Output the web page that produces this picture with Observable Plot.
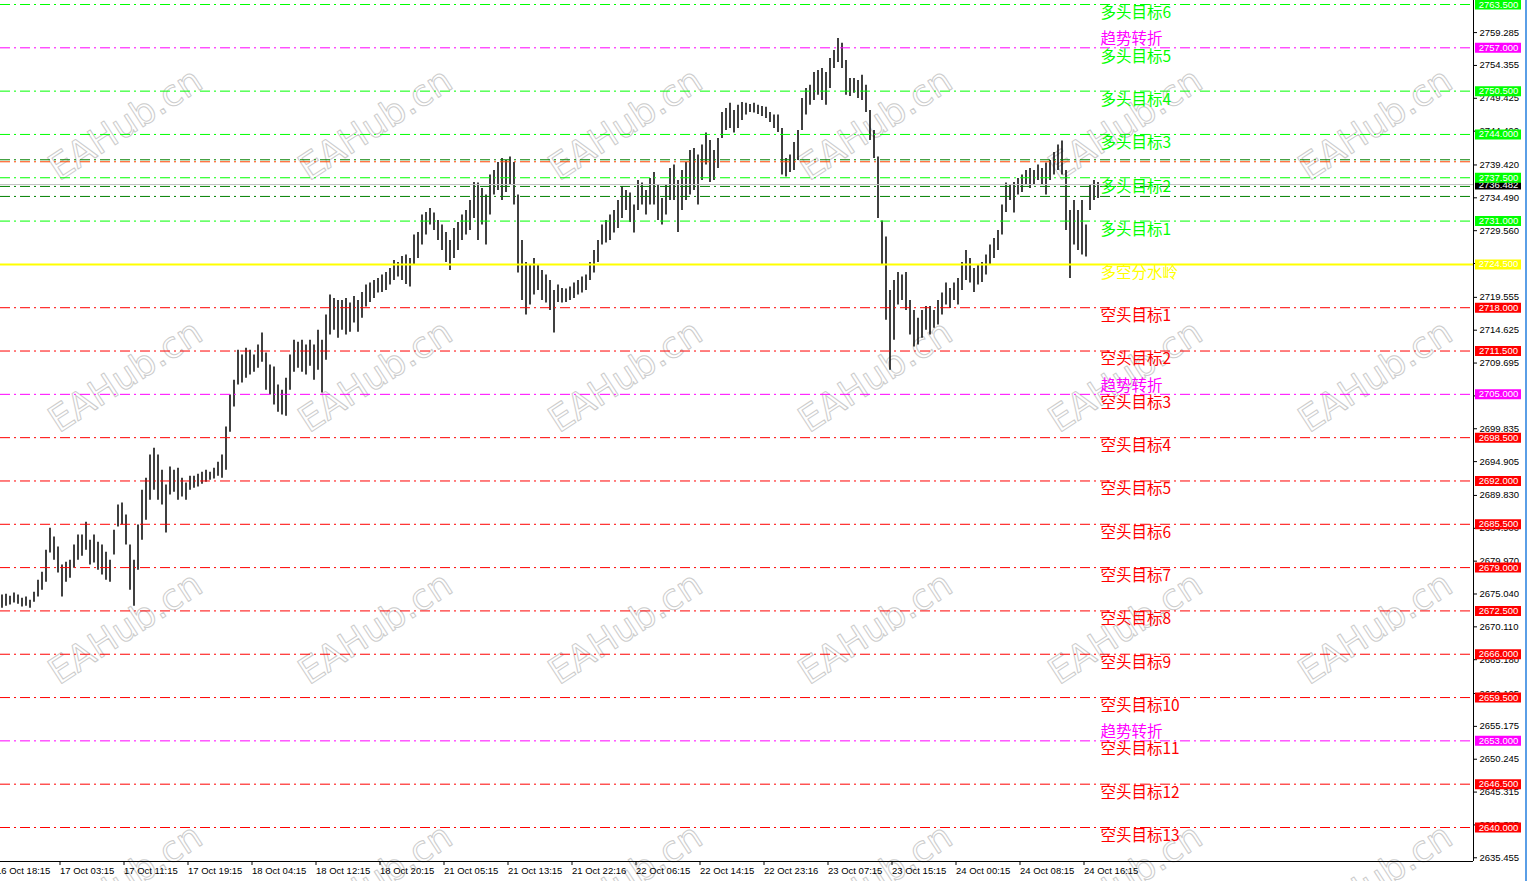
<!DOCTYPE html>
<html><head><meta charset="utf-8">
<script src="https://cdn.jsdelivr.net/npm/d3@7"></script>
<script src="https://cdn.jsdelivr.net/npm/@observablehq/plot@0.6"></script>
<style>
html,body{margin:0;padding:0;background:#fff;overflow:hidden}
#wrap{position:relative;width:1531px;height:881px}
#edge{position:absolute;left:1525px;top:0;width:2px;height:881px;background:#5a9ee6}
</style></head><body><div id="wrap"></div>
<script>
// ---- data (M15 OHLC bars) ----
const highs = [
2674.9,2675.0,2674.7,2675.2,2674.9,2674.4,2674.6,2674.1,2675.3,2677.1,
2678.3,2681.6,2684.9,2683.6,2682.1,2679.4,2679.8,2680.1,2682.4,2683.9,
2683.9,2685.8,2683.1,2683.9,2682.8,2682.4,2681.3,2680.1,2684.6,2688.4,
2688.7,2686.9,2682.4,2680.1,2685.4,2690.6,2692.4,2695.9,2696.9,2695.9,
2693.6,2691.4,2694.1,2693.6,2693.9,2692.4,2691.7,2692.7,2692.7,2693.0,
2693.3,2693.6,2693.3,2693.9,2694.8,2695.9,2700.1,2704.9,2707.1,2711.6,
2710.9,2711.9,2711.6,2710.9,2712.4,2714.2,2711.2,2709.4,2709.1,2706.4,
2705.6,2707.4,2710.9,2713.1,2712.8,2713.1,2712.4,2713.1,2712.4,2714.6,
2713.1,2716.9,2719.9,2719.4,2719.1,2719.1,2719.4,2718.7,2719.7,2719.1,
2720.3,2721.4,2721.7,2722.1,2722.4,2722.9,2723.3,2723.9,2725.1,2724.8,
2725.7,2725.9,2725.4,2728.9,2729.3,2731.9,2732.3,2732.9,2732.2,2731.1,
2730.4,2729.3,2728.1,2729.9,2730.8,2731.9,2732.6,2734.1,2736.8,2736.7,
2735.9,2734.9,2737.9,2738.6,2739.8,2740.4,2740.1,2740.6,2739.8,2734.9,
2728.1,2724.8,2724.4,2725.4,2724.4,2723.6,2722.9,2722.1,2720.6,2721.4,
2720.9,2720.8,2721.1,2721.7,2722.1,2722.6,2722.9,2724.8,2726.6,2728.1,
2730.4,2731.1,2731.9,2732.6,2734.1,2736.2,2735.6,2735.2,2733.4,2737.1,
2736.7,2735.6,2737.4,2738.3,2736.4,2734.4,2736.4,2738.9,2739.4,2737.1,
2738.6,2739.8,2741.6,2741.9,2740.9,2742.4,2744.2,2743.1,2741.6,2743.4,
2747.3,2747.9,2748.7,2747.6,2748.4,2748.8,2748.7,2748.5,2748.7,2748.4,
2748.2,2748.1,2747.3,2746.9,2746.9,2744.9,2740.4,2740.9,2742.8,2744.6,
2749.4,2750.9,2751.4,2753.3,2753.6,2753.9,2753.3,2755.4,2756.6,2758.4,
2757.7,2755.1,2752.4,2752.4,2752.1,2752.9,2751.4,2747.6,2744.6,2740.6,
2731.0,2728.6,2720.6,2722.1,2723.3,2722.9,2723.3,2719.1,2717.6,2716.4,
2717.6,2718.2,2718.2,2717.6,2719.1,2720.2,2721.7,2720.9,2721.7,2722.4,
2724.8,2726.6,2725.4,2723.9,2724.4,2724.8,2725.9,2727.4,2728.4,2729.6,
2733.4,2736.7,2736.4,2736.8,2737.4,2737.9,2738.6,2738.9,2738.6,2739.4,
2738.9,2739.7,2740.1,2741.3,2742.4,2743.0,2738.6,2732.6,2734.1,2732.6,
2734.1,2730.4,2736.4,2737.1,2736.8];
const lows = [
2672.9,2673.2,2673.4,2673.7,2673.5,2673.1,2673.2,2672.9,2673.8,2674.6,
2675.6,2676.8,2681.2,2680.1,2678.2,2674.6,2676.8,2677.4,2678.9,2680.1,
2680.7,2681.6,2679.4,2679.7,2678.6,2677.9,2677.1,2676.8,2680.9,2685.1,
2685.4,2682.4,2675.6,2673.2,2678.6,2683.1,2686.1,2689.1,2690.6,2689.1,
2688.4,2684.2,2689.9,2690.3,2689.1,2689.6,2689.1,2690.6,2690.9,2691.1,
2691.5,2691.8,2692.1,2692.3,2692.7,2692.4,2693.6,2699.3,2703.1,2706.4,
2706.7,2707.4,2707.9,2708.3,2708.9,2709.8,2705.6,2704.9,2703.4,2702.3,
2701.9,2701.7,2705.6,2708.3,2708.9,2708.3,2707.9,2709.2,2707.1,2708.6,
2705.2,2710.1,2713.9,2714.6,2713.4,2714.6,2713.9,2714.3,2715.7,2714.3,
2716.4,2718.1,2718.8,2719.4,2720.2,2720.3,2720.6,2721.4,2722.1,2722.6,
2722.1,2721.5,2721.1,2724.4,2725.4,2727.4,2728.9,2730.4,2729.6,2728.1,
2726.6,2724.8,2723.6,2725.4,2726.6,2728.1,2728.9,2729.6,2731.4,2728.1,
2730.4,2727.4,2731.9,2734.9,2735.6,2734.1,2735.3,2736.4,2733.4,2723.2,
2719.1,2716.9,2718.4,2719.9,2720.6,2719.1,2718.7,2717.6,2714.2,2718.8,
2718.7,2718.8,2719.1,2719.4,2719.9,2720.2,2720.6,2722.1,2723.2,2724.8,
2727.4,2727.7,2728.1,2729.2,2729.9,2731.4,2732.6,2730.8,2729.2,2732.6,
2733.4,2731.9,2733.4,2733.4,2731.1,2730.4,2731.9,2734.1,2734.1,2729.3,
2732.6,2734.1,2734.9,2735.6,2733.4,2737.1,2739.4,2736.8,2737.1,2738.9,
2743.4,2744.6,2744.9,2744.2,2744.9,2746.1,2746.9,2747.3,2747.2,2747.0,
2746.7,2746.4,2745.8,2744.9,2744.3,2737.9,2737.6,2738.3,2738.6,2740.1,
2744.6,2746.9,2748.4,2749.1,2749.9,2749.1,2748.4,2750.9,2753.9,2754.8,
2753.9,2749.9,2749.7,2750.2,2749.4,2749.1,2747.3,2743.1,2740.4,2731.4,
2724.4,2716.1,2708.6,2713.1,2718.4,2719.1,2717.6,2713.9,2712.1,2712.4,
2713.4,2714.6,2713.9,2714.9,2715.4,2716.9,2718.4,2717.9,2719.1,2718.4,
2720.6,2722.1,2721.7,2720.3,2721.4,2721.8,2722.9,2724.4,2725.4,2726.6,
2728.9,2732.3,2734.1,2732.2,2734.9,2735.3,2736.4,2735.9,2736.5,2737.1,
2736.4,2734.9,2737.1,2737.9,2738.6,2737.9,2729.6,2722.4,2727.4,2726.6,
2725.9,2725.6,2732.6,2734.1,2734.4];

const bullTargets = [2731.0, 2737.5, 2744.0, 2750.5, 2757.0, 2763.5];          // 多头目标1..6
const bearTargets = [2718.0, 2711.5, 2705.0, 2698.5, 2692.0, 2685.5, 2679.0,
                     2672.5, 2666.0, 2659.5, 2653.0, 2646.5, 2640.0];           // 空头目标1..13
const trendTurns = [2757.0, 2705.0, 2653.0];                                    // 趋势转折
const pivotLevel = 2724.5;                                                      // 多空分水岭
const darkGreenLevels = [2740.2, 2736.2, 2734.7];
const orangeLevels = [2739.9];
const currentPrice = 2736.482;

const yTicks = [2759.285, 2754.355, 2749.425, 2744.490, 2739.420, 2734.490, 2729.560, 2724.630,
  2719.555, 2714.625, 2709.695, 2704.765, 2699.835, 2694.905, 2689.830, 2684.900, 2679.970,
  2675.040, 2670.110, 2665.180, 2660.105, 2655.175, 2650.245, 2645.315, 2640.385, 2635.455];
const xTickBars = [-2, 14, 30, 46, 62, 78, 94, 110, 126, 142, 158, 174, 190, 206, 222, 238, 254, 270];
const xTickLabels = ["16 Oct 18:15","17 Oct 03:15","17 Oct 11:15","17 Oct 19:15","18 Oct 04:15",
  "18 Oct 12:15","18 Oct 20:15","21 Oct 05:15","21 Oct 13:15","21 Oct 22:16","22 Oct 06:15",
  "22 Oct 14:15","22 Oct 23:16","23 Oct 07:15","23 Oct 15:15","24 Oct 00:15","24 Oct 08:15","24 Oct 16:15"];

// ---- build ----
const W = 1531, H = 881, MR = 58, MB = 20;
const barPx = 4;
const X0 = -0.375, X1 = X0 + (W - MR) / barPx;
const pxPerUnit = 823 / 123.5;
const Y1 = 2763.5 + 4 / pxPerUnit, Y0 = 2640 - 34 / pxPerUnit;
const labelBar = X0 + 1100 / barPx;
const cjk = "'Noto Sans CJK SC', sans-serif";

const bars = highs.map((h, i) => ({i, h, l: lows[i]}));
const trendSet = new Set(trendTurns);
const levels = [
  ...bullTargets.map(p => ({p, c: trendSet.has(p) ? "#ff00ff" : "#00ff00"})),
  ...bearTargets.map(p => ({p, c: trendSet.has(p) ? "#ff00ff" : "#ff0000"}))
];
const boxes = [...levels, {p: pivotLevel, c: "#ffff00"}];

const wm = [];
for (let r = 0; r < 4; r++) for (let c = 0; c < 6; c++)
  wm.push({x: X0 + (125 + 250 * c) / barPx, y: Y1 - (124 + 252 * r) / pxPerUnit});

const dash = "10,4,2,4";
const chart = Plot.plot({
  width: W, height: H,
  marginLeft: 0, marginTop: 0, marginRight: MR, marginBottom: MB,
  style: {fontFamily: "'Liberation Sans', Arial, sans-serif", fontSize: "9.5px", background: "white", color: "black"},
  x: {type: "linear", domain: [X0, X1], axis: null},
  y: {domain: [Y0, Y1], axis: null},
  color: {type: "identity"},
  marks: [
    Plot.text(wm, {x: "x", y: "y", text: () => "EAHub.cn", rotate: -33, fill: "none",
      stroke: "#cccccc", strokeWidth: 1, fontSize: 36, fontFamily: "'DejaVu Sans', sans-serif"}),
    Plot.ruleX(bars, {x: "i", y1: "l", y2: "h", stroke: "black", strokeWidth: 1.5}),
    Plot.ruleY([currentPrice], {stroke: "#c0c0c0"}),
    Plot.ruleY(levels, {y: "p", stroke: "c", strokeDasharray: dash}),
    Plot.ruleY(darkGreenLevels, {stroke: "#008000", strokeDasharray: dash}),
    Plot.ruleY(orangeLevels, {stroke: "#ff4500", strokeDasharray: dash}),
    Plot.ruleY([pivotLevel], {stroke: "#ffff00", strokeWidth: 2}),
    Plot.text(bullTargets.map((p, k) => ({p, t: "多头目标" + (k + 1)})),
      {x: () => labelBar, y: "p", text: "t", fill: "#00ff00", dy: 9, textAnchor: "start", fontSize: 15.5, fontFamily: cjk}),
    Plot.text(bearTargets.map((p, k) => ({p, t: "空头目标" + (k + 1)})),
      {x: () => labelBar, y: "p", text: "t", fill: "#ff0000", dy: 8.5, textAnchor: "start", fontSize: 15.5, fontFamily: cjk}),
    Plot.text(trendTurns, {x: () => labelBar, y: d => d, text: () => "趋势转折", fill: "#ff00ff", dy: -8.5,
      textAnchor: "start", fontSize: 15.5, fontFamily: cjk}),
    Plot.text([pivotLevel], {x: () => labelBar, y: d => d, text: () => "多空分水岭", fill: "#ffff00", dy: 8.5,
      textAnchor: "start", fontSize: 15.5, fontFamily: cjk}),
    Plot.ruleX([X1], {stroke: "black"}),
    Plot.ruleY([Y0], {stroke: "black"}),
    Plot.axisY(yTicks, {anchor: "right", tickSize: 3, tickPadding: 3, tickFormat: d => d.toFixed(3), fontSize: 9.5}),
    Plot.axisX(xTickBars, {anchor: "bottom", tickSize: 4, tickPadding: 2, textAnchor: "start", dx: 2,
      tickFormat: d => xTickLabels[xTickBars.indexOf(d)], fontSize: 9.5}),
    Plot.ruleY([currentPrice], {x1: X1 + 2 / barPx, x2: X1 + 48 / barPx, stroke: "black", strokeWidth: 10}),
    Plot.text([currentPrice], {x: () => X1, y: d => d, dx: 25, text: d => d.toFixed(3), fill: "white", fontSize: 9.5}),
    Plot.ruleY(boxes, {y: "p", x1: X1 + 2 / barPx, x2: X1 + 48 / barPx, stroke: "c", strokeWidth: 10}),
    Plot.text(boxes, {x: () => X1, y: "p", dx: 25, text: d => d.p.toFixed(3), fill: "white", fontSize: 9.5})
  ]
});
const wrap = document.getElementById("wrap");
wrap.appendChild(chart);
const edge = document.createElement("div");
edge.id = "edge";
wrap.appendChild(edge);
</script>
</body></html>
